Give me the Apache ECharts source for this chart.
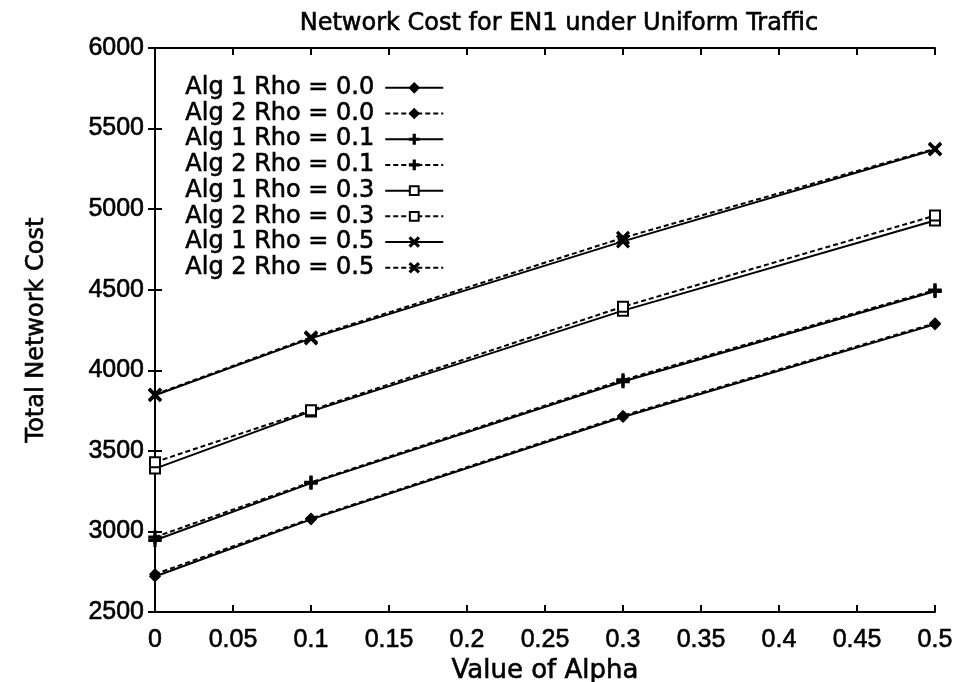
<!DOCTYPE html>
<html>
<head>
<meta charset="utf-8">
<script src="https://cdn.jsdelivr.net/npm/echarts@6/dist/echarts.min.js"></script>
<style>
  html, body { margin: 0; padding: 0; background: #fff; }
  #chart { width: 959px; height: 682px; }
</style>
</head>
<body>
<div id="chart"></div>
<script>
// alpha values where points were measured
const alphas = [0, 0.1, 0.3, 0.5];

const seriesNames = [
  'Alg 1 Rho = 0.0', 'Alg 2 Rho = 0.0',
  'Alg 1 Rho = 0.1', 'Alg 2 Rho = 0.1',
  'Alg 1 Rho = 0.3', 'Alg 2 Rho = 0.3',
  'Alg 1 Rho = 0.5', 'Alg 2 Rho = 0.5'
];

const alg1Rho00 = [2720, 3075, 3710, 4285];
const alg2Rho00 = [2735, 3080, 3718, 4292];
const alg1Rho01 = [2945, 3300, 3930, 4490];
const alg2Rho01 = [2965, 3305, 3940, 4498];
const alg1Rho03 = [3390, 3745, 4370, 4930];
const alg2Rho03 = [3430, 3752, 4395, 4960];
const alg1Rho05 = [3845, 4198, 4800, 5370];
const alg2Rho05 = [3850, 4205, 4822, 5375];

const yTicks = [2500, 3000, 3500, 4000, 4500, 5000, 5500, 6000];

const seriesValues = [alg1Rho00, alg2Rho00, alg1Rho01, alg2Rho01,
                      alg1Rho03, alg2Rho03, alg1Rho05, alg2Rho05];

// gnuplot-ish point types
const plusPath = 'path://M0,4.3H10V5.7H0Z M4.3,0H5.7V10H4.3Z';
const crossPath = 'path://M1,0L10,9L9,10L0,1Z M9,0L10,1L1,10L0,9Z';
const symbols = ['diamond', 'diamond', plusPath, plusPath, 'emptyRect', 'emptyRect', crossPath, crossPath];
const symbolSizes = [10, 10, 12, 12, 10, 10, 12, 12];

const font = 'DejaVu Sans, Liberation Sans, sans-serif';
const numFont = 'Liberation Sans, Arial, sans-serif';
// scanned print looks heavy, thicken the glyphs a bit
const heavy = { textBorderColor: '#000', textBorderWidth: 0.6 };

const chart = echarts.init(document.getElementById('chart'));

const series = seriesNames.map((name, i) => ({
  name: name,
  type: 'line',
  xAxisIndex: 0,
  yAxisIndex: 0,
  data: alphas.map((a, j) => [a, seriesValues[i][j]]),
  symbol: symbols[i],
  symbolSize: symbolSizes[i],
  showAllSymbol: true,
  color: '#000',
  itemStyle: { color: '#000', borderColor: '#000', borderWidth: 1.5 },
  lineStyle: { color: '#000', width: 2, type: i % 2 === 1 ? [5, 3] : 'solid' },
  emphasis: { disabled: true },
  z: 3
}));

const tickText = Object.assign({ color: '#000', fontFamily: numFont, fontSize: 25 }, heavy);
const xNameText = Object.assign({ color: '#000', fontFamily: font, fontSize: 26 }, heavy);
const yNameText = Object.assign({ color: '#000', fontFamily: font, fontSize: 24 }, heavy);

chart.setOption({
  animation: false,
  backgroundColor: '#fff',
  title: {
    text: 'Network Cost for EN1 under Uniform Traffic',
    left: 554,
    top: 7,
    textAlign: 'center',
    textStyle: Object.assign({ color: '#000', fontFamily: font, fontSize: 24, fontWeight: 'normal' }, heavy)
  },
  legend: {
    orient: 'vertical',
    left: 180,
    top: 70,
    align: 'right',
    itemWidth: 58,
    itemHeight: 11,
    itemGap: 0,
    textStyle: Object.assign({ color: '#000', fontFamily: font, fontSize: 24, lineHeight: 25.7, padding: [0, 6, 0, 0] }, heavy),
    data: seriesNames
  },
  grid: { left: 155, right: 24, top: 48, bottom: 70, containLabel: false, outerBoundsMode: 'none' },
  xAxis: [{
    type: 'value',
    min: 0,
    max: 0.5,
    interval: 0.05,
    name: 'Value of Alpha',
    nameLocation: 'middle',
    nameGap: 42,
    nameTextStyle: xNameText,
    axisLine: { lineStyle: { color: '#000', width: 2 } },
    axisTick: { inside: true, length: 7, lineStyle: { color: '#000', width: 2 } },
    axisLabel: Object.assign({ margin: 16, formatter: v => String(+v.toFixed(2)) }, tickText),
    splitLine: { show: false }
  }, {
    type: 'value',
    position: 'top',
    min: 0,
    max: 0.5,
    interval: 0.05,
    axisLine: { lineStyle: { color: '#000', width: 2 } },
    axisTick: { inside: true, length: 7, lineStyle: { color: '#000', width: 2 } },
    axisLabel: { show: false },
    splitLine: { show: false }
  }],
  yAxis: [{
    type: 'value',
    min: yTicks[0],
    max: yTicks[yTicks.length - 1],
    interval: 500,
    name: 'Total Network Cost',
    nameLocation: 'middle',
    nameGap: 106,
    nameTextStyle: yNameText,
    axisLine: { lineStyle: { color: '#000', width: 2 } },
    axisTick: { inside: true, length: 7, lineStyle: { color: '#000', width: 2 } },
    axisLabel: Object.assign({ margin: 11, formatter: v => String(v) }, tickText),
    splitLine: { show: false }
  }, {
    type: 'value',
    position: 'right',
    min: yTicks[0],
    max: yTicks[yTicks.length - 1],
    interval: 500,
    axisLine: { lineStyle: { color: '#000', width: 2 } },
    axisTick: { inside: true, length: 7, lineStyle: { color: '#000', width: 2 } },
    axisLabel: { show: false },
    splitLine: { show: false }
  }],
  series: series
});
</script>
</body>
</html>
